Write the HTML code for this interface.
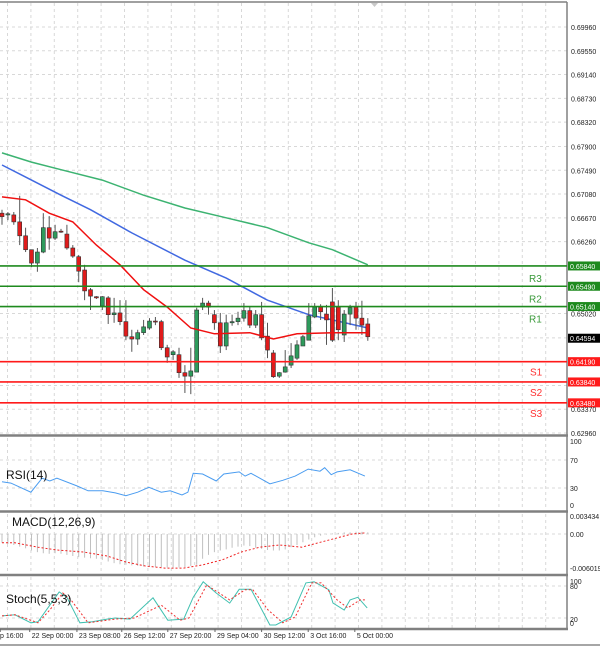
<!DOCTYPE html>
<html><head><meta charset="utf-8"><style>
html,body{margin:0;padding:0;background:#fff;}
svg{display:block;font-family:"Liberation Sans",sans-serif;}
</style></head><body>
<svg id="c" width="600" height="646" viewBox="0 0 600 646" xmlns="http://www.w3.org/2000/svg"></svg>
<script>
// ---- data ----
const openP =[6675,6672,6672,6660,6636,6612,6589,6608,6650,6632,6644,6639,6615,6600,6577,6543,6531,6515,6529,6500,6503,6488,6462,6458,6469,6477,6489,6488,6443,6431,6431,6400,6394,6401,6513,6520,6500,6486,6446,6486,6488,6494,6507,6482,6500,6463,6434,6394,6401,6413,6425,6446,6456,6496,6513,6501,6522,6513,6465,6501,6513,6494,6484];
const highP =[6681,6677,6677,6705,6650,6612,6615,6675,6670,6655,6648,6655,6620,6603,6586,6546,6532,6532,6532,6529,6525,6525,6474,6474,6491,6494,6496,6491,6448,6439,6443,6413,6443,6512,6529,6524,6508,6503,6500,6500,6505,6520,6515,6508,6522,6486,6439,6401,6439,6451,6456,6465,6520,6520,6518,6517,6546,6525,6508,6517,6522,6524,6494];
const lowP  =[6655,6663,6655,6620,6608,6582,6574,6606,6612,6629,6641,6612,6598,6556,6525,6508,6527,6508,6484,6486,6482,6456,6436,6448,6465,6474,6482,6439,6417,6422,6391,6365,6363,6465,6508,6500,6474,6434,6439,6481,6482,6488,6477,6477,6456,6425,6391,6391,6400,6408,6422,6446,6456,6494,6491,6448,6453,6456,6453,6482,6474,6465,6455];
const closeP=[6669,6674,6660,6636,6612,6589,6608,6650,6632,6643,6643,6615,6601,6575,6541,6532,6529,6531,6500,6503,6488,6463,6458,6469,6479,6489,6488,6443,6427,6436,6400,6394,6403,6508,6520,6513,6486,6446,6486,6488,6494,6507,6482,6500,6460,6439,6393,6400,6410,6429,6448,6462,6498,6513,6505,6491,6456,6474,6501,6512,6494,6482,6462];
const maGreenIdx=[0,5,10,17,24,31,38,45,52,56,62];
const maGreenVal=[6779,6763,6750,6732,6706,6684,6667,6650,6624,6612,6586];
const maBlueIdx=[0,5,10,15,22,31,38,45,52,56,62];
const maBlueVal=[6758,6732,6706,6681,6641,6594,6563,6525,6500,6491,6477];
const maRedIdx=[0,4,8,12,16,20,24,28,32,36,42,46,50,56,62];
const maRedVal=[6703,6698,6675,6660,6620,6586,6543,6513,6477,6467,6469,6458,6467,6469,6469];
const levelVals=[6584,6549,6514,6419,6384,6348];
const levelNames=["R3","R2","R1","S1","S2","S3"];
const lastPrice="0.64594";
const priceTicks=["0.69960","0.69550","0.69140","0.68730","0.68320","0.67900","0.67490","0.67080","0.66670","0.66260","0.65020","0.63370","0.62960"];
const rsiIdx=[0,1.5,4.9,6.8,8.1,9.3,12.7,14.6,17.1,19.2,21,23,24.9,27,28.5,30.5,31.5,32.4,34,36.3,37.6,40.2,41.2,42.2,45.4,47.6,49.7,51.9,53.9,54.7,55.8,56.8,59,61.5];
const rsiVal=[39,37,24,44,40,44,33,26,26,23,19,24,31,24,26,20,24,51,50,40,50,53,47,51,36,41,47,57,54,59,49,53,56,47];
const macdHist=[-1.6,-1.8,-2,-2.3,-2.6,-3,-3.3,-3.5,-3.6,-3.5,-3.6,-3.8,-4,-4.2,-4.3,-4.4,-4.5,-4.7,-5,-5.3,-5.5,-5.6,-5.7,-5.8,-5.9,-6,-6,-6,-6.1,-6.1,-6.1,-6,-5.8,-5.6,-4.5,-3.8,-3.3,-3,-2.8,-2.5,-2.3,-2.1,-2.2,-2.5,-2.7,-2.9,-3,-3,-2.8,-2.4,-2,-1.5,-1,-0.6,-0.3,-0.1,0.1,0.2,0.3,0.3,0.4,0.4,0.3];
const macdSigIdx=[0,2.2,6.1,9.3,13.9,17.8,21,24.2,27.6,30.8,34.1,37.3,40.5,43.7,47,50.8,53.6,56.8,59.3,61.5];
const macdSigVal=[-1.6,-1.6,-2.4,-2.9,-3.3,-4,-5.1,-5.8,-6.2,-6.2,-5.6,-4.7,-3.3,-2.4,-2,-2.4,-1.6,-0.7,0,0.2];
const stoIdx=[0,2.2,4.9,6.1,9.7,11,13.2,15.3,17.8,19.2,21.7,25.6,28.1,30.8,32.4,34.1,36.3,38.6,40.2,42.2,45.4,46.4,49,51.5,52.9,55.4,56.1,58,59,60.3,61.9];
const stoVal=[24,26,11,13,69,59,11,13,18,20,18,58,16,18,59,88,67,48,74,74,7,7,22,86,88,73,48,35,54,59,39];
const sigIdx=[0,2.2,6.1,8.1,10.3,11.7,14.6,19.2,22.4,27,30.2,31.7,34.7,38.6,41.2,42.5,45.1,47.6,49.7,52.5,54.1,56.8,58.6,60.7,61.5];
const sigVal=[24,26,11,35,67,54,11,18,20,44,16,20,82,54,73,73,35,11,22,86,86,54,39,54,54];
const xLabels=["p 16:00","22 Sep 00:00","23 Sep 08:00","26 Sep 12:00","27 Sep 20:00","29 Sep 04:00","30 Sep 12:00","3 Oct 16:00","5 Oct 00:00"];
const xLabelIdx=[-0.3,4.7,12.7,20.3,28.1,36.1,44,51.9,59.8];

// ---- scales ----
const NS="http://www.w3.org/2000/svg", svg=document.getElementById('c');
const AX=567;
const xI=i=>2+5.9*i;
const yP=p=>27+(0.6996-p/10000)*5800;
const yPs=s=>27+(0.6996-parseFloat(s))*5800;
const yR=v=>509-0.7*v;
const yM=v=>534-5.5*v;
const yS=v=>628.7-0.533*v;
function el(t,a,parent){const e=document.createElementNS(NS,t);for(const k in a)e.setAttribute(k,a[k]);(parent||svg).appendChild(e);return e;}
function txt(s,a,parent){const e=el('text',a,parent);e.textContent=s;return e;}
function poly(xs,ys,a,name){const pts=xs.map((x,i)=>x.toFixed(1)+','+ys[i].toFixed(1)).join(' ');const e=el('polyline',Object.assign({points:pts,fill:'none'},a));return e;}

// grid
const grid=el('g',{stroke:'#d8d8d8','stroke-width':1,'stroke-dasharray':'3,3'});


for(let k=0;k<24;k++){const x=7.5+23.4*k;if(x>AX)break;
 el('line',{x1:x,y1:3,x2:x,y2:434},grid);el('line',{x1:x,y1:438,x2:x,y2:510},grid);
 el('line',{x1:x,y1:514,x2:x,y2:573},grid);el('line',{x1:x,y1:577,x2:x,y2:628},grid);}
priceTicks.forEach(t=>{el('line',{x1:0,y1:yPs(t),x2:AX,y2:yPs(t)},grid);});
[0.6460,0.6378].forEach(p=>el('line',{x1:0,y1:yPs(p),x2:AX,y2:yPs(p)},grid));
[70,30].forEach(v=>el('line',{x1:0,y1:yR(v),x2:AX,y2:yR(v)},grid));
el('line',{x1:0,y1:yM(0),x2:AX,y2:yM(0)},grid);
[80,20].forEach(v=>el('line',{x1:0,y1:yS(v),x2:AX,y2:yS(v)},grid));

// frames
const fr=el('g',{stroke:'#808080',fill:'none'});


el('line',{x1:0,y1:2,x2:AX,y2:2,'stroke-width':1.5},fr);
[435.5,511.5,575,629].forEach(y=>el('line',{x1:0,y1:y,x2:AX+1,y2:y,'stroke-width':2.5},fr));
el('line',{x1:AX,y1:2,x2:AX,y2:629,'stroke-width':1.5},fr);
el('polygon',{points:'371,3 378,3 374.5,7',fill:'#c8c8c8',stroke:'none'});

// MAs
poly(maGreenIdx.map(xI),maGreenVal.map(yP),{stroke:'#3cb371','stroke-width':1.5},'ma-green');
poly(maBlueIdx.map(xI),maBlueVal.map(yP),{stroke:'#4169e1','stroke-width':1.5},'ma-blue');

// candles
const cg=el('g',{});


openP.forEach((o,i)=>{const c=closeP[i],x=xI(i);
 const w=el('line',{x1:x,y1:yP(highP[i]),x2:x,y2:yP(lowP[i]),stroke:'#555','stroke-width':1},cg);
 
 
 const t=Math.min(yP(o),yP(c)),h=Math.max(1,Math.abs(yP(o)-yP(c)));
 const r=el('rect',{x:x-2,y:t,width:4,height:h,fill:c>=o?'#2e9b5c':'#e01b1b',stroke:'#333','stroke-width':0.6},cg);
 
 
});
poly(maRedIdx.map(xI),maRedVal.map(yP),{stroke:'#f01010','stroke-width':1.5},'ma-red');

// levels
levelVals.forEach((v,i)=>{const res=i<3,col=res?'#1e8a1e':'#ff1a1a',y=yP(v);
 const l=el('line',{x1:0,y1:y,x2:AX,y2:y,stroke:col,'stroke-width':1.6});
 
 
 const b=el('rect',{x:AX+1,y:y-4.5,width:32,height:9,fill:res?'#1e8a1e':'#ff1a1a'});
 
 
 const pt=txt('0.'+String(v*10).padStart(5,'0'),{x:AX+3,y:y+3,'font-size':7,fill:'#fff'});
 
 
 const lt=txt(levelNames[i],{x:res?529:530,y:y+(res?16:14),'font-size':10,fill:res?'#3a9a3a':'#ff3030'});
 
 
});
// last price box
const lb=el('rect',{x:AX+1,y:yPs(lastPrice)-4.5,width:32,height:9,fill:'#000'});


const lpt=txt(lastPrice,{x:AX+3,y:yPs(lastPrice)+3,'font-size':7,fill:'#fff'});


// axis ticks
priceTicks.forEach(t=>{const e=txt(t,{x:AX+4,y:yPs(t)+3,'font-size':7,fill:'#222'});
 
 });

// RSI
poly(rsiIdx.map(xI),rsiVal.map(yR),{stroke:'#4a9cf0','stroke-width':1},'rsi-line');
[["100",100],["70",70],["30",30],["0",0]].forEach(([s,v])=>{const e=txt(s,{x:AX+3,y:Math.min(Math.max(yR(v)+3,444),508),'font-size':7,fill:'#222'});
 
 });
const rt=txt('RSI(14)',{x:6,y:479,'font-size':12,fill:'#111'});



// MACD
macdHist.forEach((v,i)=>{const e=el('line',{x1:xI(i),y1:yM(0),x2:xI(i),y2:yM(v),stroke:'#c0c0c0','stroke-width':1});
 
 });
poly(macdSigIdx.map(xI),macdSigVal.map(yM),{stroke:'#f02020','stroke-width':1,'stroke-dasharray':'2,2'},'macd-signal');
[["0.003434",516],["0.00",yM(0)],["-0.006019",568]].forEach(([s,y])=>{const e=txt(s,{x:AX+3,y:y+3,'font-size':7,fill:'#222'});
 
 });
const mt=txt('MACD(12,26,9)',{x:12,y:526,'font-size':12,fill:'#111'});



// Stoch
poly(stoIdx.map(xI),stoVal.map(yS),{stroke:'#40c0b0','stroke-width':1},'stoch-main');
poly(sigIdx.map(xI),sigVal.map(yS),{stroke:'#f03030','stroke-width':1,'stroke-dasharray':'2,2'},'stoch-signal');
[["100",582],["80",587],["20",620],["0",624]].forEach(([s,y])=>{const e=txt(s,{x:AX+3,y:y+2,'font-size':7,fill:'#222'});
 
 });
const st=txt('Stoch(5,5,3)',{x:6,y:603,'font-size':12,fill:'#111'});



// x axis
xLabels.forEach((s,i)=>{const x=xI(xLabelIdx[i]);
 const tk=el('line',{x1:x,y1:629,x2:x,y2:632,stroke:'#666'});
 
 
 const e=txt(s,{x:i===0?0:x+2,y:638,'font-size':7,fill:'#222'});
 
 });
el('line',{x1:0,y1:645,x2:600,y2:645,stroke:'#888','stroke-width':1.5});
</script>
</body></html>
